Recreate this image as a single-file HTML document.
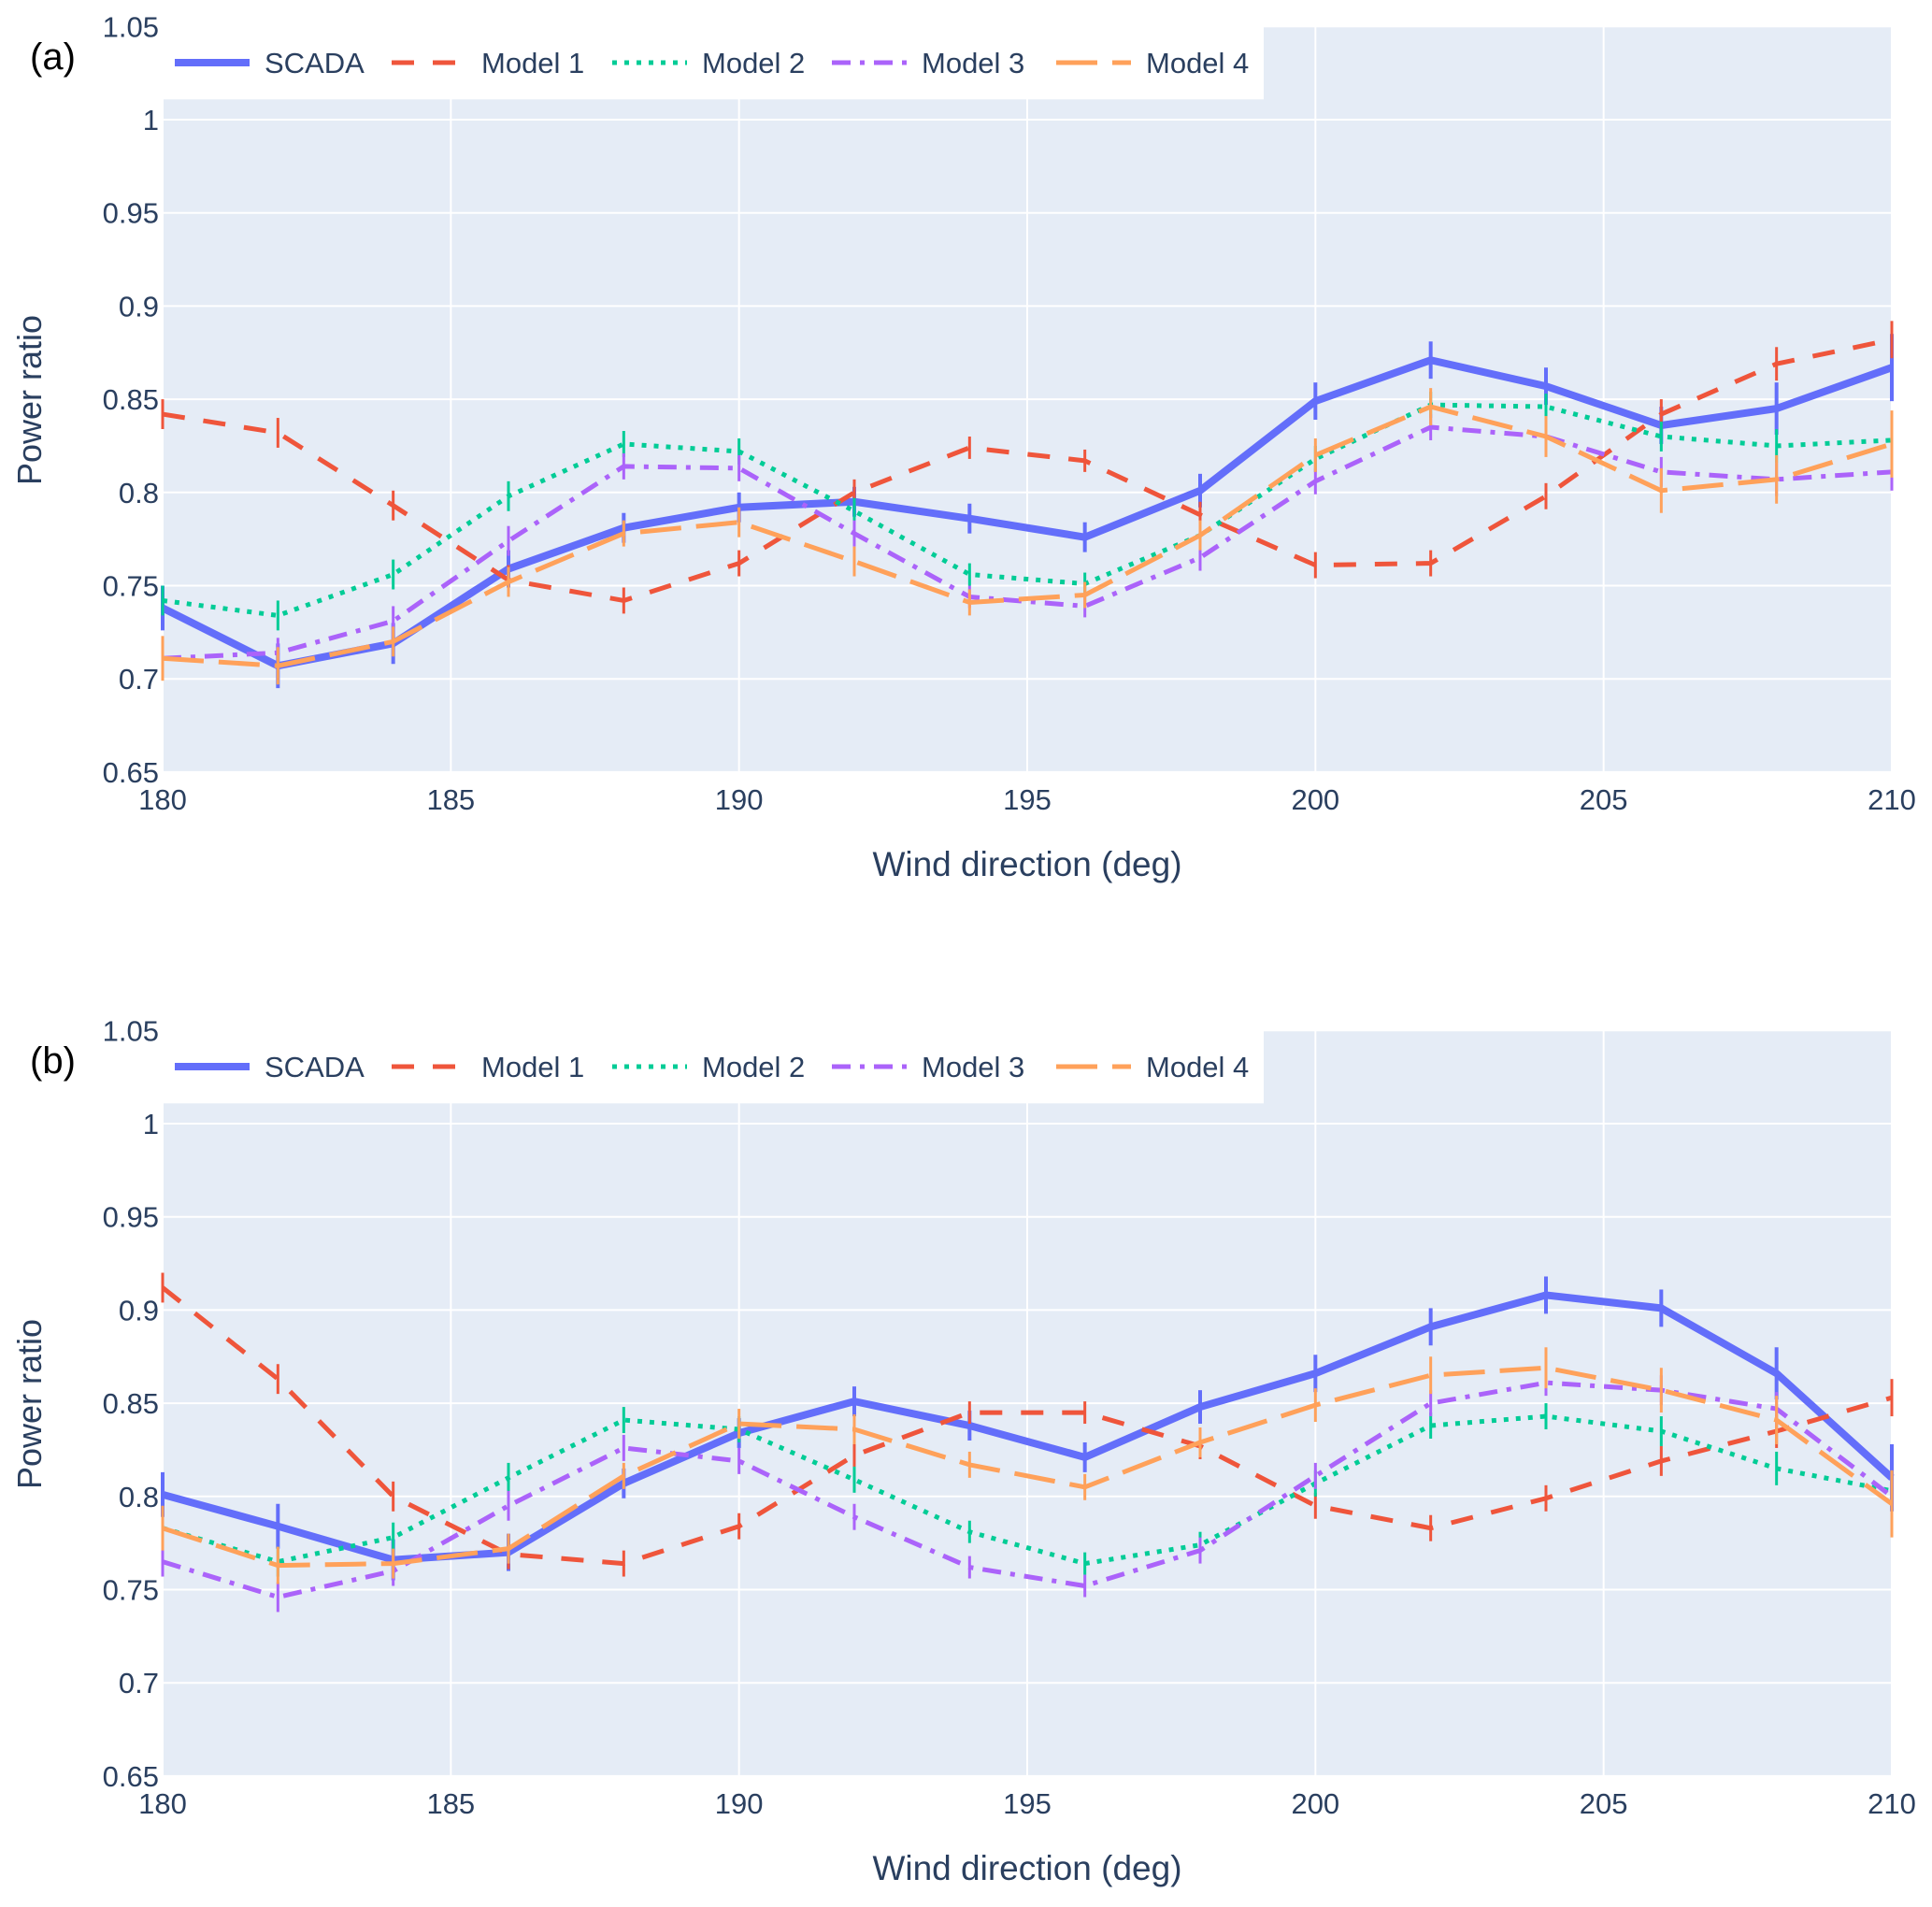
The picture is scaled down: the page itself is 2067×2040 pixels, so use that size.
<!DOCTYPE html>
<html><head><meta charset="utf-8"><style>
body{margin:0;background:#fff;}
svg text{font-family:"Liberation Sans",Arial,sans-serif;fill:#2a3f5f;}
</style></head><body>
<svg id="chart" width="2067" height="2035" viewBox="0 0 2067 2035" xmlns="http://www.w3.org/2000/svg"></svg>
<script>
const xCats=[180,182,184,186,188,190,192,194,196,198,200,202,204,206,208,210];
const xTicks=[180,185,190,195,200,205,210];
const yTicks=[0.65,0.7,0.75,0.8,0.85,0.9,0.95,1,1.05];
const yTickLabels=["0.65","0.7","0.75","0.8","0.85","0.9","0.95","1","1.05"];
const seriesNames=["SCADA","Model 1","Model 2","Model 3","Model 4"];
const aScada=[0.738,0.707,0.719,0.759,0.781,0.792,0.795,0.786,0.776,0.801,0.849,0.871,0.857,0.836,0.845,0.867];
const aModel1=[0.842,0.832,0.793,0.753,0.742,0.762,0.800,0.824,0.817,0.788,0.761,0.762,0.798,0.842,0.869,0.882];
const aModel2=[0.742,0.734,0.756,0.798,0.826,0.822,0.790,0.756,0.751,0.777,0.818,0.847,0.846,0.830,0.825,0.828];
const aModel3=[0.711,0.714,0.731,0.774,0.814,0.813,0.778,0.744,0.739,0.765,0.806,0.835,0.830,0.811,0.807,0.811];
const aModel4=[0.711,0.707,0.720,0.752,0.778,0.784,0.763,0.741,0.745,0.777,0.820,0.846,0.830,0.801,0.807,0.826];
const bScada=[0.801,0.784,0.766,0.770,0.807,0.834,0.851,0.838,0.821,0.848,0.866,0.891,0.908,0.901,0.866,0.810];
const bModel1=[0.912,0.863,0.800,0.769,0.764,0.784,0.822,0.845,0.845,0.827,0.795,0.783,0.799,0.819,0.835,0.853];
const bModel2=[0.783,0.765,0.778,0.810,0.841,0.836,0.809,0.781,0.764,0.774,0.807,0.838,0.843,0.835,0.815,0.803];
const bModel3=[0.765,0.746,0.760,0.795,0.826,0.819,0.789,0.762,0.752,0.771,0.811,0.850,0.861,0.857,0.847,0.800];
const bModel4=[0.783,0.763,0.764,0.772,0.811,0.839,0.836,0.817,0.805,0.829,0.849,0.865,0.869,0.857,0.841,0.796];
const errScada=[0.012,0.012,0.011,0.010,0.008,0.008,0.008,0.008,0.008,0.009,0.010,0.010,0.010,0.010,0.014,0.018];
const errModel=[0.008,0.008,0.008,0.008,0.007,0.007,0.007,0.006,0.006,0.007,0.007,0.007,0.007,0.008,0.009,0.010];
const errModel4=[0.012,0.010,0.008,0.008,0.007,0.008,0.008,0.007,0.007,0.008,0.009,0.010,0.011,0.012,0.013,0.018];

const svg=document.getElementById('chart');
const NS='http://www.w3.org/2000/svg';
const L=174,R=2024;
const colors=['#636efa','#EF553B','#00cc96','#ab63fa','#FFA15A'];
const widths=[8,5,5,5,5];
const dashes=['','24,20','5,8','20,10,5,10','44,16'];
function mk(tag,attrs,parent){const e=document.createElementNS(NS,tag);for(const k in attrs)e.setAttribute(k,attrs[k]);(parent||svg).appendChild(e);return e;}
function xs(v){return L+(v-180)/30*(R-L);}

function panel(off,label,data,key){
  const ys=v=>off+128+(1-v)/0.05*99.7;
  const g=mk('g',{});
  
  
  const bg=mk('rect',{x:L,y:ys(1.05),width:R-L,height:ys(0.65)-ys(1.05),fill:'#e5ecf6'},g);
  
  
  xTicks.forEach(t=>{const l=mk('line',{x1:xs(t),x2:xs(t),y1:ys(1.05),y2:ys(0.65),stroke:'#fff','stroke-width':2},g);
    });
  yTicks.forEach(t=>{const l=mk('line',{x1:L,x2:R,y1:ys(t),y2:ys(t),stroke:'#fff','stroke-width':2},g);
    });
  const lb=mk('rect',{x:L,y:ys(1.05),width:1178,height:78,fill:'#fff'},g);
  
  data.forEach((arr,si)=>{
    const sg=mk('g',{},g);
    
    
    const err=si===0?errScada:(si===4?errModel4:errModel);
    const pts=arr.map((v,i)=>xs(xCats[i])+','+ys(v)).join(' ');
    const pl=mk('polyline',{points:pts,fill:'none',stroke:colors[si],'stroke-width':widths[si],'stroke-dasharray':dashes[si],'stroke-linejoin':'round'},sg);
    
    arr.forEach((v,i)=>{const e=mk('line',{x1:xs(xCats[i]),x2:xs(xCats[i]),y1:ys(v-err[i]),y2:ys(v+err[i]),stroke:colors[si],'stroke-width':si===0?4:3},sg);
      });
  });
  xTicks.forEach(t=>{const tx=mk('text',{x:xs(t),y:off+866,'font-size':31,'text-anchor':'middle'},g);tx.textContent=t;
    });
  yTicks.forEach((t,i)=>{const tx=mk('text',{x:L-4,y:ys(t)+11,'font-size':31,'text-anchor':'end'},g);tx.textContent=yTickLabels[i];
    });
  const xt=mk('text',{x:(L+R)/2,y:off+937,'font-size':37,'text-anchor':'middle'},g);xt.textContent='Wind direction (deg)';
  
  const yt=mk('text',{x:0,y:0,'font-size':36,'text-anchor':'middle',transform:'translate(44,'+(off+428)+') rotate(-90)'},g);yt.textContent='Power ratio';
  
  const pl=mk('text',{x:32,y:off+74,'font-size':40},g);pl.textContent=label;pl.style.fill='#000';
  
  const lx=[187,419,655,890,1130];
  seriesNames.forEach((n,si)=>{
    const eg=mk('g',{},g);
    
    const ly=off+67;
    mk('line',{x1:lx[si],x2:lx[si]+80,y1:ly,y2:ly,stroke:colors[si],'stroke-width':widths[si],'stroke-dasharray':dashes[si]},eg);
    const t=mk('text',{x:lx[si]+96,y:ly+11,'font-size':31},eg);t.textContent=n;
  });
}
panel(0,'(a)',[aScada,aModel1,aModel2,aModel3,aModel4],'a');
panel(1074,'(b)',[bScada,bModel1,bModel2,bModel3,bModel4],'b');
</script>
</body></html>
